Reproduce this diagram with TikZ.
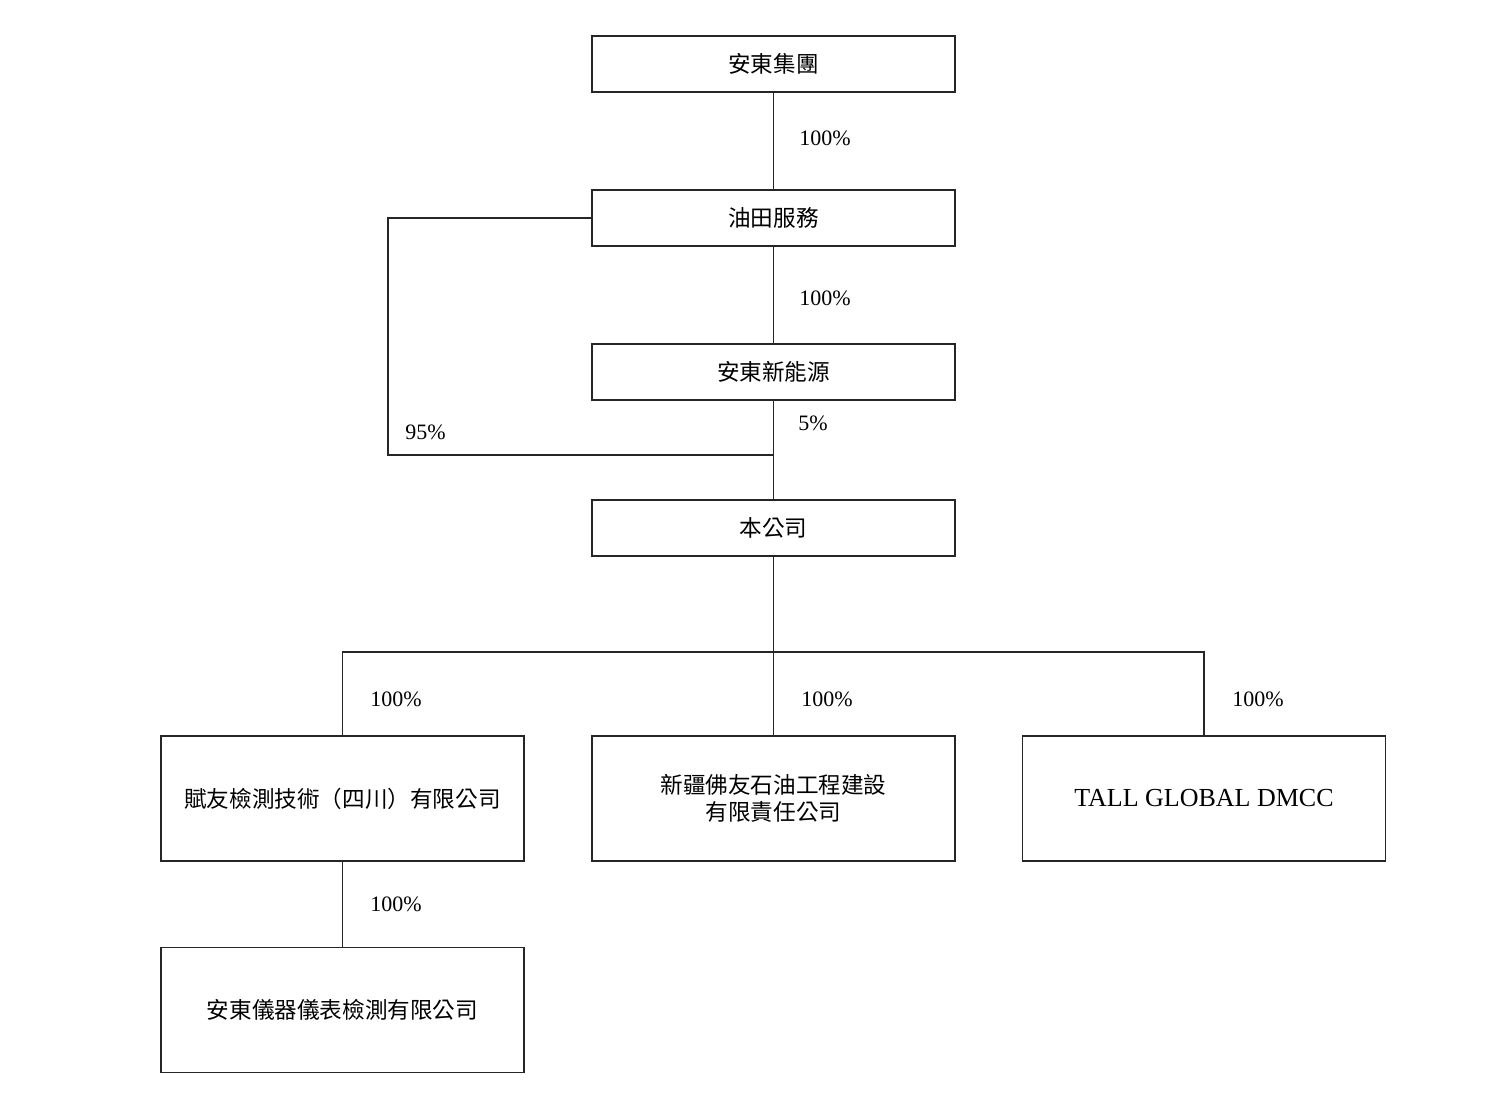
\documentclass[tikz,border=0pt]{standalone}
\usepackage{fontspec}
\setmainfont{Liberation Serif}
\newfontfamily\cjk{Noto Sans CJK TC}
\usepackage{tikz}
\usetikzlibrary{positioning}
\tikzset{%
  entbox/.style={draw=black!85, line width=.75pt, minimum width=181.5pt, minimum height=28pt, inner sep=2pt, align=center, font=\cjk\fontsize{11.3}{13.5}\selectfont},
  bigbox/.style={entbox, minimum height=62.5pt},
  pct/.style={anchor=west, inner sep=0pt, font=\fontsize{11}{13}\selectfont},
  link/.style={draw=black!85, line width=.75pt}
}

\begin{document}
\begin{tikzpicture}[x=0.5pt,y=-0.5pt]
\useasboundingbox (0,0) rectangle (1488,1105);
\node[entbox] (adjt) at (773.5,64) {安東集團};
\node[entbox] (ytfw) at (773.5,218) {油田服務};
\node[entbox] (adxny) at (773.5,372) {安東新能源};
\node[entbox] (bgs) at (773.5,528) {本公司};
\node[bigbox] (fyjc) at (342.5,798.5) {賦友檢測技術（四川）有限公司};
\node[bigbox] (xjfy) at (773.5,798.5) {新疆佛友石油工程建設\\有限責任公司};
\node[bigbox, font=\fontsize{13}{15}\selectfont] (tall) at (1204,798.5) {TALL GLOBAL DMCC};
\node[bigbox] (adyq) at (342.5,1010) {安東儀器儀表檢測有限公司};
\coordinate (bend) at (388,455);
\coordinate (join) at (773.5,455);
\coordinate (bus) at (773.5,652);
\draw[link] (adjt) -- (ytfw);
\draw[link] (ytfw) -- (adxny);
\draw[link] (adxny) -- (bgs);
\draw[link] (ytfw.west) -| (bend) -- (join);
\draw[link] (bgs) -- (xjfy);
\draw[link] (fyjc.north) |- (bus) -| (tall.north);
\draw[link] (fyjc) -- (adyq);
\node[pct] at (799,138) {100\%};
\node[pct] at (799,298) {100\%};
\node[pct] at (798,423) {5\%};
\node[pct] at (405,432) {95\%};
\node[pct] at (370,699) {100\%};
\node[pct] at (801,699) {100\%};
\node[pct] at (1232,699) {100\%};
\node[pct] at (370,904) {100\%};
\end{tikzpicture}
\end{document}
